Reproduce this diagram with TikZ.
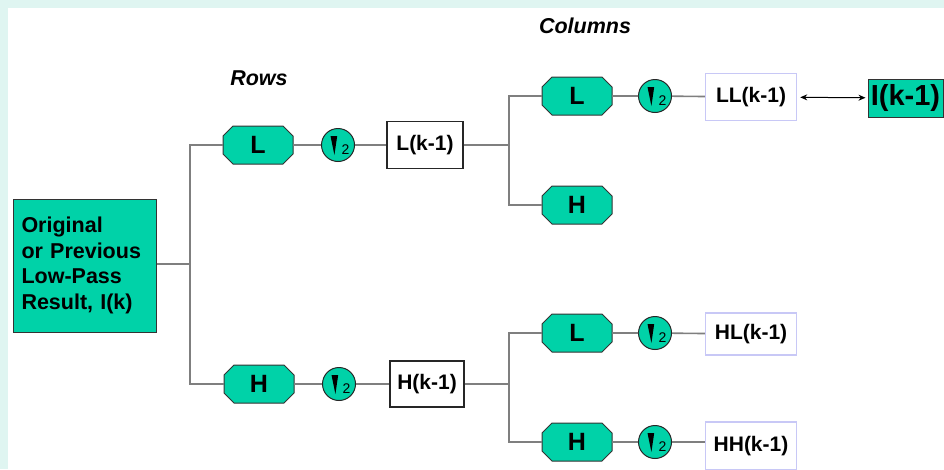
\documentclass[tikz,border=0pt]{standalone}
\usepackage{fontspec}
\setmainfont{Liberation Sans}
\usetikzlibrary{arrows.meta,calc}
\definecolor{teal1}{HTML}{00D2A8}
\definecolor{bgcyan}{HTML}{DFF5F1}
\definecolor{linegray}{HTML}{7F7F7F}
\definecolor{lav}{HTML}{C8C8F6}
\tikzset{
  filt/.style={rectangle, minimum width=70pt, minimum height=38pt, inner sep=0pt,
    font=\fontsize{25}{25}\selectfont\bfseries},
  octfill/.style={draw=black!80, line width=1pt, fill=teal1},
  down/.style={circle, draw=black!85, line width=1pt, fill=teal1, minimum size=33pt, inner sep=0pt,
    path picture={
      \fill[black] ($(path picture bounding box.center)+(-7.5,-9)$) -- ($(path picture bounding box.center)+(-0.8,-9)$)
        -- ($(path picture bounding box.center)+(-3.6,10)$) -- cycle;
      \node[font=\fontsize{14}{14}\selectfont, inner sep=0pt] at ($(path picture bounding box.center)+(7.5,5)$) {2};
    }},
  resbox/.style={rectangle, draw=black!85, line width=1.2pt, fill=white, inner sep=0pt,
    font=\fontsize{21}{21}\selectfont\bfseries},
  outbox/.style={rectangle, draw=lav, line width=1.5pt, fill=white, inner sep=0pt,
    font=\fontsize{21}{21}\selectfont\bfseries},
  conn/.style={draw=linegray, line width=1.6pt},
  title/.style={font=\fontsize{21.5}{21.5}\selectfont\bfseries\itshape}
}
% octagon filter node: #1 name, #2 x,y, #3 text
\newcommand\octnode[3]{%
  \filldraw[octfill] ($(#2)+(-25,-19)$) -- ($(#2)+(25,-19)$) -- ($(#2)+(35,-9)$) -- ($(#2)+(35,9)$)
    -- ($(#2)+(25,19)$) -- ($(#2)+(-25,19)$) -- ($(#2)+(-35,9)$) -- ($(#2)+(-35,-9)$) -- cycle;
  \node[filt] (#1) at (#2) {#3};}
\begin{document}
\begin{tikzpicture}[x=1pt,y=-1pt]
\useasboundingbox (0,0) rectangle (944,469);
\fill[bgcyan] (0,0) rectangle (944,469);
\fill[white] (8,8) rectangle (944,469);

\node[title] (cols) at (585,26) {Columns};
\node[title] (rows) at (259,78) {Rows};

\node[rectangle, draw=black!80, line width=1pt, fill=teal1, minimum width=143pt, minimum height=133pt,
  inner sep=0pt, text width=126pt, align=left, font=\fontsize{21.5}{25.5}\selectfont\bfseries]
  (orig) at (84.5,265.5) {Original\\or Previous\\Low-Pass\\Result, I(k)};
\coordinate (j1) at (190,264);

% rows
\octnode{L1}{258,145}{L}
\node[down] (d1) at (338,145) {};
\node[resbox, minimum width=76pt, minimum height=47pt] (b1) at (425,145) {L(k-1)};
\coordinate (j2) at (509,145);

\octnode{H1}{259,384}{H}
\node[down] (d2) at (339,384) {};
\node[resbox, minimum width=74pt, minimum height=46pt] (b2) at (427,384) {H(k-1)};
\coordinate (j3) at (509,384);

% columns
\octnode{L2}{577,96}{L}
\node[down] (d3) at (655,96) {};
\node[outbox, minimum width=91pt, minimum height=47pt] (LL) at (751,97) {LL(k-1)};
\node[rectangle, draw=black!80, line width=1pt, fill=teal1, minimum width=75pt, minimum height=38pt,
  inner sep=0pt, font=\fontsize{29}{29}\selectfont\bfseries] (Ik) at (905.5,98) {I(k-1)};

\octnode{H2}{577,205}{H}

\octnode{L3}{577,333}{L}
\node[down] (d4) at (655,333) {};
\node[outbox, minimum width=91pt, minimum height=42pt] (HL) at (751,334) {HL(k-1)};

\octnode{H3}{577,442}{H}
\node[down] (d5) at (655,442) {};
\node[outbox, minimum width=91pt, minimum height=48pt] (HH) at (751,446) {HH(k-1)};

% connectors
\draw[conn] (orig.east |- j1) -- (j1);
\draw[conn] (L1.west) -| (j1) |- (H1.west);
\draw[conn] (L1) -- (d1) -- (b1);
\draw[conn] (b1.east) -- (j2);
\draw[conn] (L2.west) -| (j2) |- (H2.west);
\draw[conn] (H1) -- (d2) -- (b2);
\draw[conn] (b2.east) -- (j3);
\draw[conn] (L3.west) -| (j3) |- (H3.west);
\draw[conn] (L2) -- (d3) -- (LL);
\draw[conn] (L3) -- (d4) -- (HL);
\draw[conn] (H3) -- (d5) -- (d5 -| HH.west);
\draw[line width=1pt, {Stealth[length=7pt,width=6pt]}-{Stealth[length=7pt,width=6pt]}, shorten <=3pt, shorten >=2pt] (LL) -- (Ik);
\end{tikzpicture}
\end{document}
